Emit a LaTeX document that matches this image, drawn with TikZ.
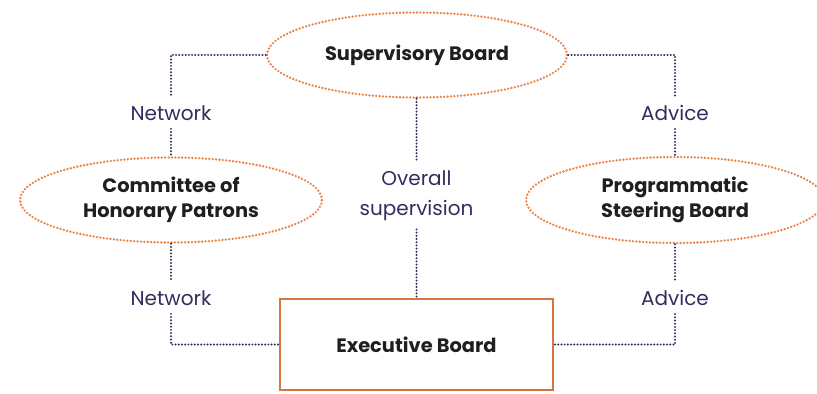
\documentclass[tikz,border=0pt]{standalone}
\usepackage{fontspec}
\setmainfont{Poppins}
\usetikzlibrary{shapes.geometric}
\definecolor{navy}{HTML}{2F2E5C}
\definecolor{dotorange}{HTML}{E8844A}
\tikzset{
	body/.style={ellipse, draw=dotorange, line width=1.3pt, dash pattern=on 0pt off 1.7pt, line cap=round, font=\bfseries\fontsize{9.7}{12.5}\selectfont, text=black!88, align=center, inner sep=0pt},
	link/.style={draw=navy, line width=1.1pt, dash pattern=on 0pt off 1.6pt, line cap=round},
	tag/.style={text=navy, font=\fontsize{10}{15}\selectfont, align=center, inner sep=4pt}
}
\begin{document}
\begin{tikzpicture}[x=0.5pt,y=-0.5pt]
	\useasboundingbox (0,0) rectangle (817,394);
	\node (SB) at (417, 55)	[body, minimum width=150pt, minimum height=42.5pt]	{Supervisory Board};
	\node (CP) at (171,200)	[body, minimum width=151pt, minimum height=42.5pt]	{Committee of\\Honorary Patrons};
	\node (PS) at (675,200)	[body, minimum width=149pt, minimum height=43pt]	{Programmatic\\Steering Board};
	\node (EB) at (416.5,344.5)	[draw=dotorange!90!black, line width=0.8pt, minimum width=136.5pt, minimum height=45.5pt, font=\bfseries\fontsize{9.7}{12.5}\selectfont, text=black!88]	{Executive Board};
	\node (NW1) at (171,113)	[tag]	{Network};
	\node (NW2) at (171,298)	[tag]	{Network};
	\node (AD1) at (675,113)	[tag]	{Advice};
	\node (AD2) at (675,298)	[tag]	{Advice};
	\node (OS) at (416.5,196)	[tag]	{Overall\\supervision};
	\draw[link] (SB.west) -| (NW1);
	\draw[link] (NW1) -- (CP.north);
	\draw[link] (CP.south) -- (NW2);
	\draw[link] (NW2) |- (EB.west);
	\draw[link] (SB.east) -| (AD1);
	\draw[link] (AD1) -- (PS.north);
	\draw[link] (PS.south) -- (AD2);
	\draw[link] (AD2) |- (EB.east);
	\draw[link] (SB.south -| OS) -- (OS);
	\draw[link] (OS) -- (EB.north);
\end{tikzpicture}
\end{document}
